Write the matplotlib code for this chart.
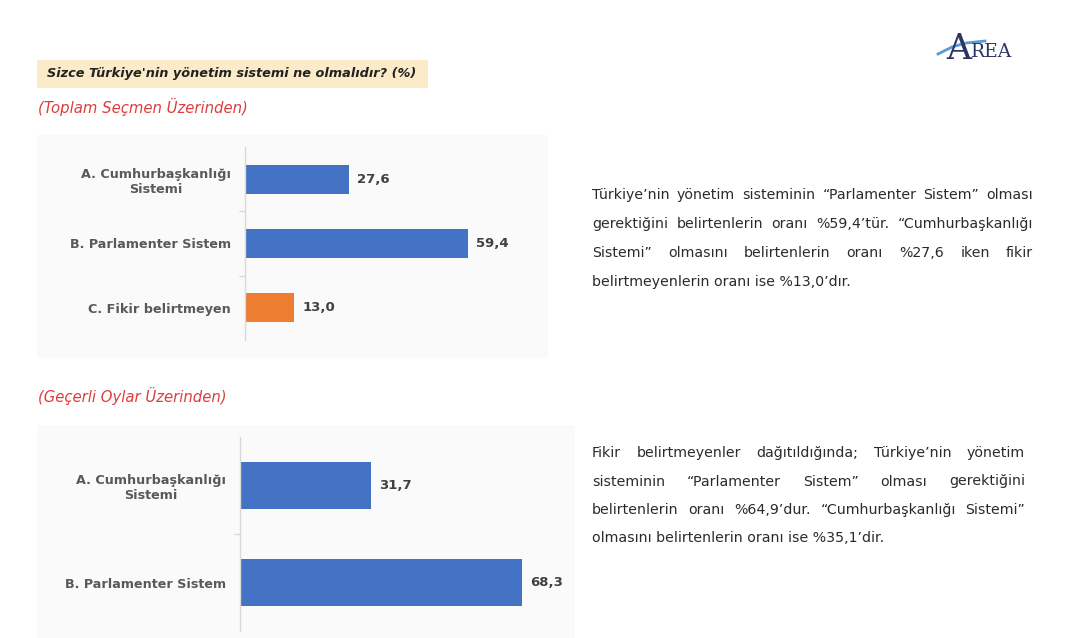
import matplotlib

matplotlib.use("Agg")
import matplotlib.pyplot as plt
from matplotlib.patches import Rectangle

# Data
cats_total = ["A. Cumhurbaşkanlığı\nSistemi", "B. Parlamenter Sistem", "C. Fikir belirtmeyen"]
vals_total = [27.6, 59.4, 13.0]
cats_valid = ["A. Cumhurbaşkanlığı\nSistemi", "B. Parlamenter Sistem"]
vals_valid = [31.7, 68.3]

title = "Sizce Türkiye'nin yönetim sistemi ne olmalıdır? (%)"
sub_total = "(Toplam Seçmen Üzerinden)"
sub_valid = "(Geçerli Oylar Üzerinden)"

text_total = [
    "Türkiye’nin yönetim sisteminin “Parlamenter Sistem” olması",
    "gerektiğini belirtenlerin oranı %59,4’tür. “Cumhurbaşkanlığı",
    "Sistemi” olmasını belirtenlerin oranı %27,6 iken fikir",
    "belirtmeyenlerin oranı ise %13,0’dır.",
]
text_valid = [
    "Fikir belirtmeyenler dağıtıldığında; Türkiye’nin yönetim",
    "sisteminin “Parlamenter Sistem” olması gerektiğini",
    "belirtenlerin oranı %64,9’dur. “Cumhurbaşkanlığı Sistemi”",
    "olmasını belirtenlerin oranı ise %35,1’dir.",
]

BLUE = "#4472C4"
ORANGE = "#ED7D31"
AXIS_GREY = "#D9D9D9"
LABEL_GREY = "#595959"
VALUE_DARK = "#404040"
RED = "#E03C3C"

W, H = 1068, 638


def fx(x):
    return x / W


def fy(y):
    return 1 - y / H


def add_rect(fig, x0, y0, x1, y1, color, zorder=-1):
    fig.patches.append(
        Rectangle(
            (fx(x0), fy(y1)),
            fx(x1) - fx(x0),
            fy(y0) - fy(y1),
            transform=fig.transFigure,
            facecolor=color,
            edgecolor="none",
            zorder=zorder,
        )
    )


def bar_panel(fig, box, cats, vals, colors, height, xmax):
    x0, y0, x1, y1 = box
    ax = fig.add_axes([fx(x0), fy(y1), fx(x1) - fx(x0), fy(y0) - fy(y1)])
    ax.set_facecolor("none")
    n = len(vals)
    ypos = list(range(n))
    ax.barh(ypos, vals, height=height, color=colors, edgecolor="none")
    for y, v in zip(ypos, vals):
        ax.annotate(
            f"{v:.1f}".replace(".", ","),
            (v, y),
            xytext=(6, 0),
            textcoords="offset points",
            va="center",
            ha="left",
            fontsize=9.5,
            fontweight="bold",
            color=VALUE_DARK,
        )
    ax.set_xlim(0, xmax)
    ax.set_ylim(n - 0.5, -0.5)
    for side in ["top", "right", "bottom"]:
        ax.spines[side].set_visible(False)
    ax.spines["left"].set_color(AXIS_GREY)
    ax.spines["left"].set_linewidth(1.0)
    ax.set_xticks([])
    ax.set_yticks(ypos)
    ax.set_yticklabels(cats, fontsize=9.2, fontweight="bold", color=LABEL_GREY,
                       multialignment="center")
    ax.tick_params(axis="y", which="major", length=0, pad=10)
    ax.set_yticks([i + 0.5 for i in range(n - 1)], minor=True)
    ax.tick_params(axis="y", which="minor", length=4, color=AXIS_GREY, width=1.0)
    return ax


def justified(fig, lines, x0, x1, y_first, step, size, color, renderer):
    for k, line in enumerate(lines):
        y = fy(y_first + k * step)
        words = line.split(" ")
        if k == len(lines) - 1:
            fig.text(fx(x0), y, line, fontsize=size, color=color, va="center", ha="left")
            continue
        widths = []
        for w in words:
            t = fig.text(0, 0, w, fontsize=size)
            widths.append(t.get_window_extent(renderer).width)
            t.remove()
        gap = (x1 - x0 - sum(widths)) / (len(words) - 1)
        x = x0
        for w, wd in zip(words, widths):
            fig.text(fx(x), y, w, fontsize=size, color=color, va="center", ha="left")
            x += wd + gap


def main() -> int:
    fig = plt.figure(figsize=(W / 100, H / 100), dpi=100)
    fig.patch.set_facecolor("white")
    renderer = fig.canvas.get_renderer()

    # Title band and subtitles
    add_rect(fig, 37, 60, 428, 88, "#FCEBC9")
    fig.text(fx(47), fy(74), title, fontsize=9.3, fontweight="bold", style="italic",
             color="#222222", va="center", ha="left")
    fig.text(fx(38), fy(107), sub_total, fontsize=10.7, style="italic", color=RED,
             va="center", ha="left")
    fig.text(fx(38), fy(396), sub_valid, fontsize=10.7, style="italic", color=RED,
             va="center", ha="left")

    # Faint chart backgrounds
    add_rect(fig, 37, 135, 548, 358, "#FAFAFA", zorder=-2)
    add_rect(fig, 37, 425, 575, 638, "#FAFAFA", zorder=-2)

    # Charts
    bar_panel(fig, (245, 147, 545, 340), cats_total, vals_total,
              [BLUE, BLUE, ORANGE], 0.45, 80)
    bar_panel(fig, (240, 437, 560, 631), cats_valid, vals_valid,
              [BLUE, BLUE], 0.48, 77.5)

    # Commentary paragraphs
    justified(fig, text_total, 592, 1033, 195, 29, 10.2, "#2B2B2B", renderer)
    justified(fig, text_valid, 592, 1025, 453, 28.5, 10.2, "#2B2B2B", renderer)

    # Logo
    fig.text(fx(946), fy(59), "A", fontsize=25, family="DejaVu Serif",
             color="#2A3560", va="baseline", ha="left")
    fig.text(fx(971), fy(57), "REA", fontsize=13.5, family="DejaVu Serif",
             color="#2A3560", va="baseline", ha="left")
    fig.lines.append(
        plt.Line2D([fx(938), fx(952), fx(966), fx(985)],
                   [fy(54), fy(47), fy(43), fy(41)],
                   transform=fig.transFigure, color="#5B9BD5", lw=2.0)
    )

    fig.savefig("out.png", dpi=100)
    return 0


if __name__ == "__main__":
    raise SystemExit(main())
